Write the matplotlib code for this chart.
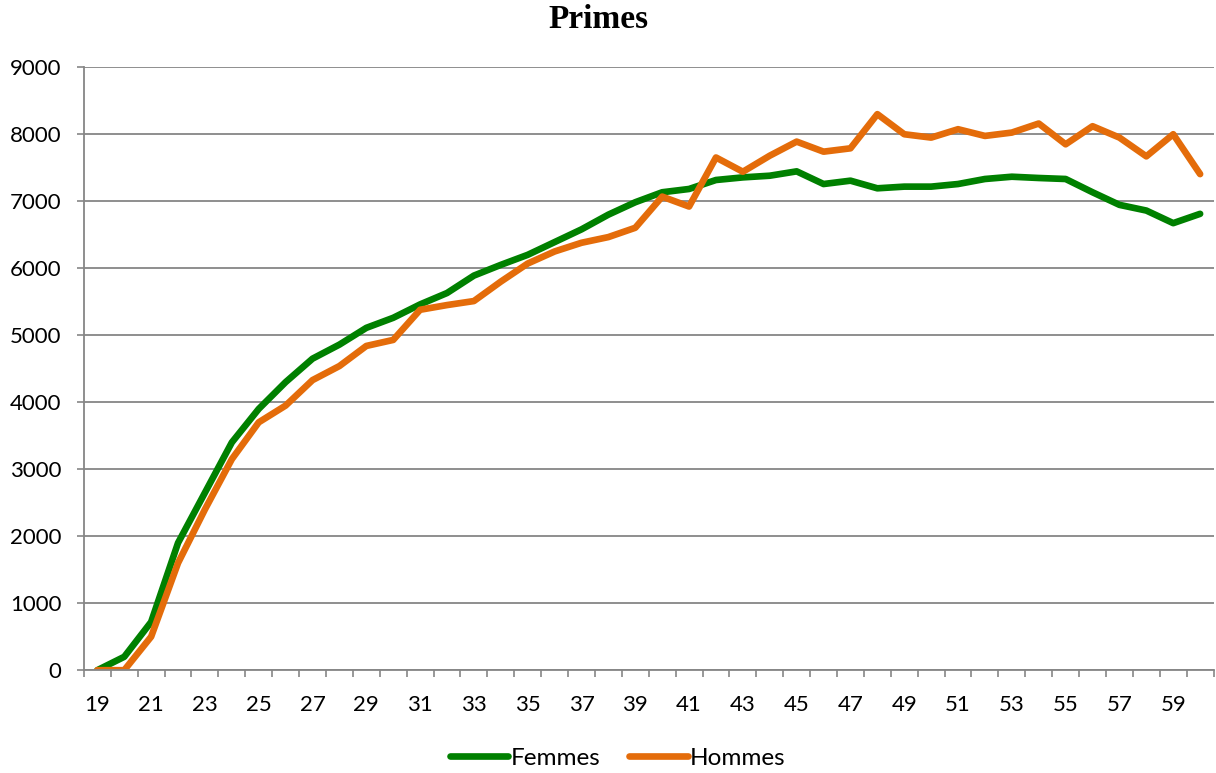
import numpy as np
import matplotlib
matplotlib.use('Agg')
import matplotlib.pyplot as plt
from matplotlib.ticker import MultipleLocator, FixedLocator

# Ages 19..60
ages = list(range(19, 61))

femmes = [0, 200, 720, 1900, 2650, 3400, 3900, 4300, 4650, 4860,
          5110, 5260, 5460, 5630, 5890, 6050, 6200, 6390, 6580, 6800,
          6985, 7134, 7183, 7317, 7356, 7381, 7446, 7257, 7307, 7193,
          7218, 7218, 7257, 7332, 7366, 7347, 7332, 7134, 6946, 6861,
          6673, 6812]

hommes = [0, 0, 500, 1600, 2400, 3150, 3700, 3950, 4330, 4540,
          4840, 4930, 5380, 5450, 5510, 5800, 6070, 6250, 6380, 6465,
          6604, 7069, 6921, 7653, 7440, 7680, 7890, 7740, 7790, 8300,
          8000, 7950, 8075, 7975, 8025, 8160, 7850, 8120, 7950, 7670,
          8000, 7405]

plt.rcParams['font.family'] = ['Lato', 'DejaVu Sans']

fig = plt.figure(figsize=(12.16, 7.73), dpi=100)
ax = fig.add_axes([0.069, 0.133, 0.929, 0.780])

ax.plot(ages, femmes, color='#008000', linewidth=4.8, label='Femmes',
        solid_capstyle='round', solid_joinstyle='round')
ax.plot(ages, hommes, color='#E46C0A', linewidth=4.8, label='Hommes',
        solid_capstyle='round', solid_joinstyle='round')

ax.set_xlim(18.5, 60.5)
ax.set_ylim(0, 9000)
ax.yaxis.set_major_locator(MultipleLocator(1000))
ax.xaxis.set_major_locator(FixedLocator(ages[::2]))
ax.xaxis.set_minor_locator(FixedLocator(np.arange(18.5, 61, 1)))
ax.tick_params(axis='x', which='major', length=0, pad=18, labelsize=16)
ax.tick_params(axis='x', which='minor', length=5, color='#868686', width=1.2)
ax.tick_params(axis='y', length=5, color='#868686', width=1.2, labelsize=16, pad=11)

ax.grid(axis='y', color='#868686', linewidth=1.3)
ax.set_axisbelow(True)
for s in ['top', 'right']:
    ax.spines[s].set_visible(False)
for s in ['left', 'bottom']:
    ax.spines[s].set_color('#868686')
    ax.spines[s].set_linewidth(1.3)

fig.suptitle('Primes', fontsize=24, fontweight='bold', family='Liberation Serif',
             x=0.492, y=0.995)

ax.legend(loc='upper center', bbox_to_anchor=(0.4726, -0.1), ncol=2, frameon=False,
          fontsize=17.5, handlelength=2.4, handletextpad=0.1, columnspacing=1.2,
          borderaxespad=0.3)

plt.savefig('out.png', dpi=100)
